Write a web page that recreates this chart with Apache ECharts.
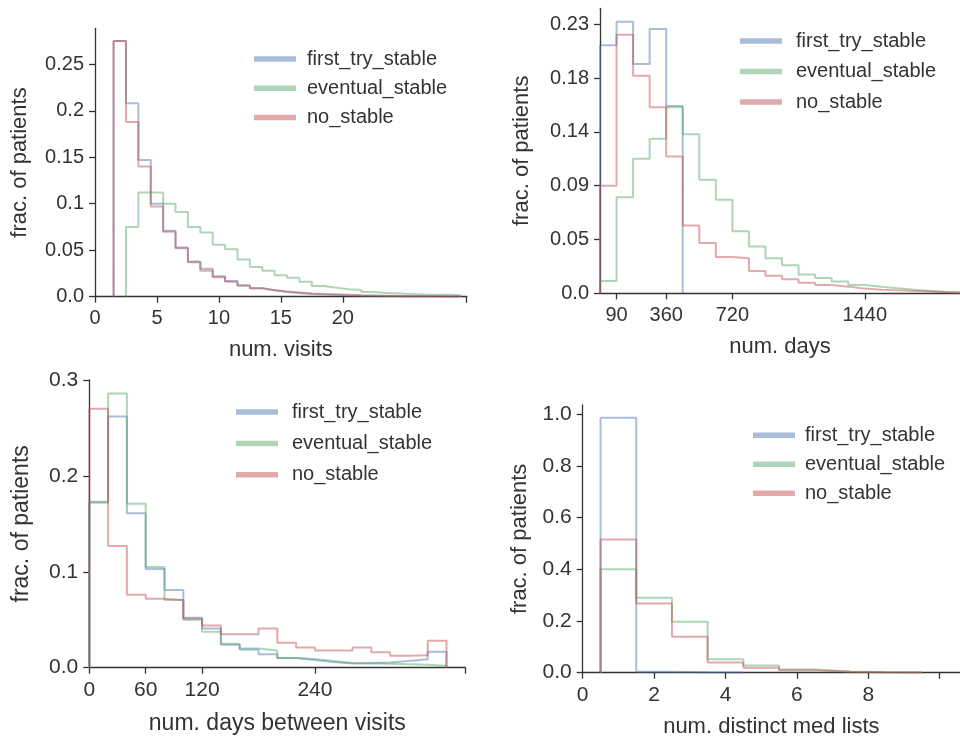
<!DOCTYPE html>
<html>
<head>
<meta charset="utf-8">
<script src="https://cdn.jsdelivr.net/npm/echarts@6/dist/echarts.min.js"></script>
<style>html,body{margin:0;padding:0;background:#fff}#c{width:960px;height:738px}</style>
</head>
<body>
<div id="c"></div>
<script>
// ---------- data ----------
const seriesNames = ['first_try_stable', 'eventual_stable', 'no_stable'];

// Panel 1: num. visits (bins of width 1)
const visitsEdges = [1.5,2.5,3.5,4.5,5.5,6.5,7.5,8.5,9.5,10.5,11.5,12.5,13.5,14.5,15.5,16.5,17.5,18.5,19.5,20.5,21.5,22.5,23.5,24.5,25.5,26.5,27.5,28.5,29.5];
const visitsFirst = [0.275,0.208,0.147,0.100,0.071,0.053,0.038,0.030,0.022,0.017,0.012,0.009,0.007,0.005,0.004,0.003,0.0025,0.002,0.0015,0.0012,0.001,0.0008,0.0006,0.0005,0.0004,0.0003,0.0003,0.0002];
const visitsEventual = [null,0.075,0.112,0.112,0.100,0.091,0.075,0.069,0.056,0.051,0.040,0.032,0.028,0.023,0.0205,0.016,0.0115,0.0097,0.008,0.0072,0.005,0.004,0.0035,0.003,0.0025,0.002,0.002,0.0015];
const visitsNo = [0.275,0.188,0.140,0.097,0.070,0.052,0.037,0.028,0.021,0.016,0.012,0.009,0.007,0.0055,0.0045,0.0035,0.003,0.0025,0.002,0.0015,0.0012,0.001,0.0008,0.0006,0.0005,0.0004,0.0003,0.0003];
const visitsXTicks = [0,5,10,15,20,30];
const visitsXLabels = [0,5,10,15,20];
const visitsYTicks = [0,0.05,0.1,0.15,0.2,0.25];
const visitsYLabels = ['0.0','0.05','0.1','0.15','0.2','0.25'];

// Panel 2: num. days (bins of 90 days)
const daysEdges = [0,90,180,270,360,450,540,630,720,810,900,990,1080,1170,1260,1350,1440,1530,1620,1710,1800,1890,1980];
const daysFirst = [0.212,0.232,0.196,0.226,0.160];
const daysEventual = [0.0105,0.082,0.115,0.132,0.159,0.136,0.097,0.080,0.053,0.040,0.030,0.024,0.016,0.013,0.010,0.007,0.0057,0.0043,0.003,0.002,0.0012,0.0006];
const daysNo = [0.092,0.221,0.186,0.159,0.117,0.058,0.043,0.031,0.030,0.019,0.015,0.012,0.009,0.007,0.0057,0.004,0.003,0.0025,0.002,0.0015,0.001,0.0005];
const daysXTicks = [90,360,720,1440];
const daysXLabels = [90,360,720,1440];
const daysYTicks = [0,0.046,0.092,0.138,0.184,0.23];
const daysYLabels = ['0.0','0.05','0.09','0.14','0.18','0.23'];

// Panel 3: num. days between visits (bins of 20 days)
const gapEdges = [0,20,40,60,80,100,120,140,160,180,200,220,240,260,280,300,320,340,360,380];
const gapFirst = [0.173,0.262,0.161,0.103,0.081,0.052,0.041,0.024,0.019,0.014,0.010,0.008,0.006,0.0045,0.005,0.0055,0.007,0.0087,0.0167];
const gapEventual = [0.172,0.286,0.171,0.105,0.0705,0.050,0.0375,0.025,0.020,0.018,0.010,0.009,0.007,0.005,0.0045,0.004,0.0035,0.003,0.002];
const gapNo = [0.270,0.127,0.076,0.072,0.0705,0.051,0.044,0.035,0.035,0.041,0.026,0.021,0.018,0.018,0.021,0.016,0.0125,0.013,0.028];
const gapXTicks = [0,60,120,240,400];
const gapXLabels = [0,60,120,240];
const gapYTicks = [0,0.1,0.2,0.3];
const gapYLabels = ['0.0','0.1','0.2','0.3'];

// Panel 4: num. distinct med lists (bins of width 1)
const medEdges = [0.5,1.5,2.5,3.5,4.5,5.5,6.5,7.5,8.5,9.5];
const medFirst = [0.986,0.004,0.002,0.001];
const medEventual = [0.400,0.290,0.197,0.052,0.028,0.012,0.005,0.002,0.001];
const medNo = [0.515,0.268,0.139,0.039,0.019,0.009,0.004,0.002,0.001];
const medXTicks = [0,2,4,6,8,10];
const medXLabels = [0,2,4,6,8];
const medYTicks = [0,0.2,0.4,0.6,0.8,1.0];
const medYLabels = ['0.0','0.2','0.4','0.6','0.8','1.0'];

// ---------- build ----------
const colors = ['rgba(76,114,176,0.48)','rgba(85,168,104,0.48)','rgba(196,78,82,0.48)'];
const FONT = 'Liberation Sans, Arial, sans-serif';
const TXT = '#333';

function stepData(edges, vals) {
  const pts = [];
  let started = false, last = 0;
  for (let i = 0; i < vals.length; i++) {
    const v = vals[i];
    if (v == null) continue;
    if (!started) { pts.push([edges[i], 0]); started = true; }
    pts.push([edges[i], v], [edges[i + 1], v]);
    last = i + 1;
  }
  pts.push([edges[last], 0]);
  return pts;
}

const panels = [
  {grid:{left:95,top:28.3,width:371.7,height:268.4}, xmin:0, xmax:30, ymax:0.28875,
   edges:visitsEdges, data:[visitsFirst,visitsEventual,visitsNo],
   xt:visitsXTicks, xl:visitsXLabels, yt:visitsYTicks, yl:visitsYLabels,
   xname:'num. visits', xgap:42, ygap:64, tick:20, title:22,
   legend:{left:249,top:44,gap:9.3,pad:6}},
  {grid:{left:600,top:8.3,width:360,height:285}, xmin:0, xmax:1958, ymax:0.2436,
   edges:daysEdges, data:[daysFirst,daysEventual,daysNo],
   xt:daysXTicks, xl:daysXLabels, yt:daysYTicks, yl:daysYLabels,
   xname:'num. days', xgap:43, ygap:67, tick:20, title:22,
   legend:{left:735,top:26,gap:10.5,pad:9}},
  {grid:{left:89.3,top:380,width:376,height:287.7}, xmin:0, xmax:400, ymax:0.3,
   edges:gapEdges, data:[gapFirst,gapEventual,gapNo],
   xt:gapXTicks, xl:gapXLabels, yt:gapYTicks, yl:gapYLabels,
   xname:'num. days between visits', xgap:44, ygap:56, tick:21, title:23,
   legend:{left:231,top:397,gap:11.4,pad:9}},
  {grid:{left:582.7,top:405,width:377.3,height:267.7}, xmin:0, xmax:10.57, ymax:1.035,
   edges:medEdges, data:[medFirst,medEventual,medNo],
   xt:medXTicks, xl:medXLabels, yt:medYTicks, yl:medYLabels,
   xname:'num. distinct med lists', xgap:43, ygap:52, tick:21, title:22,
   legend:{left:748,top:420.3,gap:9,pad:5}}
];

const option = {
  animation:false,
  backgroundColor:'#fff',
  textStyle:{fontFamily:FONT, color:TXT},
  grid:[], xAxis:[], yAxis:[], series:[], legend:[]
};

panels.forEach((p, k) => {
  option.grid.push(Object.assign({containLabel:false, outerBoundsMode:'none'}, p.grid));
  option.xAxis.push({
    type:'value', gridIndex:k, min:p.xmin, max:p.xmax,
    name:p.xname, nameLocation:'middle', nameGap:p.xgap,
    nameTextStyle:{fontSize:p.title, color:TXT, fontFamily:FONT},
    axisLine:{show:true, onZero:false, lineStyle:{color:TXT, width:1.3}},
    axisTick:{show:true, inside:false, length:6, lineStyle:{color:TXT, width:1.3}, customValues:p.xt},
    axisLabel:{show:true, fontSize:p.tick, color:TXT, fontFamily:FONT, margin:12, customValues:p.xl,
      formatter:v=>String(v)},
    splitLine:{show:false}
  });
  option.yAxis.push({
    type:'value', gridIndex:k, min:0, max:p.ymax,
    name:'frac. of patients', nameLocation:'middle', nameRotate:90, nameGap:p.ygap,
    nameTextStyle:{fontSize:p.title, color:TXT, fontFamily:FONT},
    axisLine:{show:true, onZero:false, lineStyle:{color:TXT, width:1.3}},
    axisTick:{show:true, inside:false, length:6, lineStyle:{color:TXT, width:1.3}, customValues:p.yt},
    axisLabel:{show:true, fontSize:p.tick, color:TXT, fontFamily:FONT, margin:11, customValues:p.yt,
      formatter:v=>{
        let best=0, bd=1e9;
        p.yt.forEach((t,i)=>{const d=Math.abs(t-v); if(d<bd){bd=d;best=i;}});
        return p.yl[best];
      }},
    splitLine:{show:false}
  });
  p.data.forEach((vals, s) => {
    option.series.push({
      type:'line', name:seriesNames[s], xAxisIndex:k, yAxisIndex:k,
      data:stepData(p.edges, vals), showSymbol:false, symbol:'none',
      color:colors[s],
      lineStyle:{color:colors[s], width:2},
      itemStyle:{color:colors[s]},
      clip:true, z:2+s
    });
  });
  option.legend.push({
    orient:'vertical', left:p.legend.left, top:p.legend.top,
    itemGap:p.legend.gap, itemWidth:42, itemHeight:5.5, icon:'rect',
    data:seriesNames,
    textStyle:{fontSize:20, color:TXT, fontFamily:FONT, lineHeight:20, padding:[0,0,0,p.legend.pad]},
    selectedMode:false
  });
});

const chart = echarts.init(document.getElementById('c'), null, {renderer:'canvas'});
chart.setOption(option);
</script>
</body>
</html>
